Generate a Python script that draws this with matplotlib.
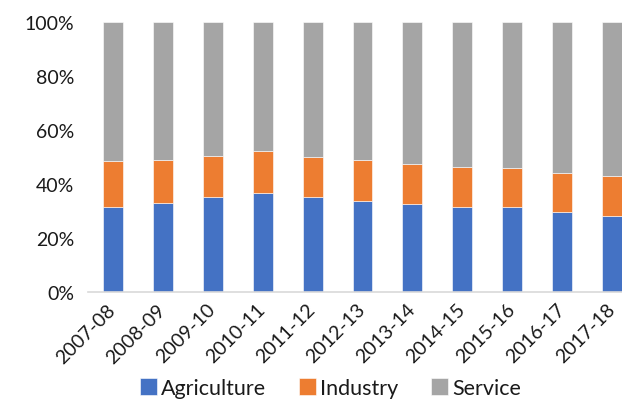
import matplotlib.pyplot as plt
import numpy as np

plt.rcParams['font.family'] = ['Lato', 'DejaVu Sans']

years = ['2007-08', '2008-09', '2009-10', '2010-11', '2011-12', '2012-13',
         '2013-14', '2014-15', '2015-16', '2016-17', '2017-18']
agriculture = [31.5, 33.0, 35.2, 36.8, 35.0, 33.7, 32.4, 31.5, 31.3, 29.5, 28.0]
industry = [16.8, 15.9, 15.2, 15.2, 15.1, 15.0, 15.0, 14.9, 14.4, 14.4, 14.8]
service = [51.7, 51.1, 49.6, 48.0, 49.9, 51.3, 52.6, 53.6, 54.3, 56.1, 57.2]

fig = plt.figure(figsize=(6.22, 4.02), dpi=100)
# axes run a little past the right edge, so the last bar is cut at the border
ax = fig.add_axes([0.1415, 0.2711, 0.8826, 0.6724])

x = np.arange(len(years))
w = 0.4
agr = np.array(agriculture)
ind = np.array(industry)
srv = np.array(service)
ax.bar(x, agr, w, color='#4472C4', label='Agriculture', edgecolor='white', linewidth=0.4)
ax.bar(x, ind, w, bottom=agr, color='#ED7D31', label='Industry', edgecolor='white', linewidth=0.4)
ax.bar(x, srv, w, bottom=agr + ind, color='#A5A5A5', label='Service', edgecolor='white', linewidth=0.4)

ax.set_xlim(-0.5, len(years) - 0.5)
ax.set_ylim(0, 100)
ax.set_yticks(range(0, 101, 20))
ax.set_yticklabels([f'{v}%' for v in range(0, 101, 20)], fontsize=14, color='#1a1a1a')
# ticks are invisible; sit them a bit left of the bar centres so the
# slanted labels end under the bars and the last one stays in the figure
ax.set_xticks(x - 0.12)
ax.set_xticklabels(years, rotation=45, ha='right', va='top', rotation_mode='anchor',
                   fontsize=14, color='#1a1a1a')

for side in ['top', 'right', 'left']:
    ax.spines[side].set_visible(False)
ax.spines['bottom'].set_color('#d9d9d9')
ax.spines['bottom'].set_linewidth(1.2)
ax.tick_params(axis='both', length=0)
ax.tick_params(axis='y', pad=10)
ax.tick_params(axis='x', pad=6)

fig.legend(loc='center', bbox_to_anchor=(0.531, 0.032), ncol=3, frameon=False,
           fontsize=15.5, handlelength=0.8, handleheight=0.8, handletextpad=0.2,
           columnspacing=1.5, labelcolor='#1a1a1a', borderpad=0)

fig.savefig('out.png', dpi=100)
